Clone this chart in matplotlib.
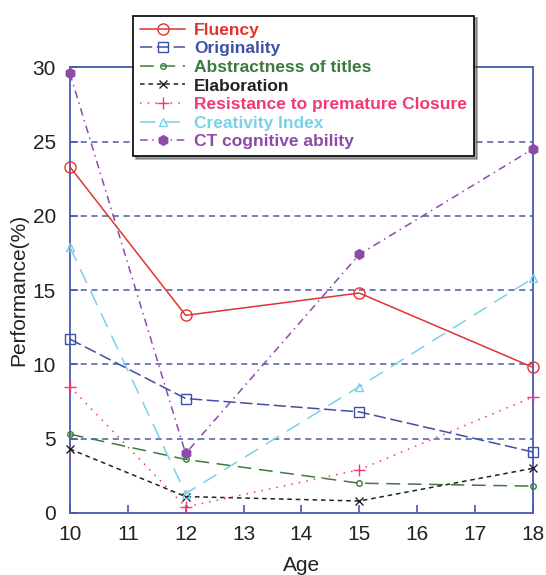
import matplotlib
matplotlib.use('Agg')
import matplotlib.pyplot as plt

ages = [10, 12, 15, 18]
fluency = [23.3, 13.3, 14.8, 9.8]
originality = [11.7, 7.7, 6.8, 4.1]
abstractness = [5.3, 3.6, 2.0, 1.8]
elaboration = [4.3, 1.1, 0.8, 3.0]
resistance = [8.5, 0.4, 2.9, 7.8]
creativity = [17.9, 1.3, 8.5, 15.8]
ct_ability = [29.6, 4.0, 17.4, 24.5]

blue = '#4a58b0'
plt.rcParams['font.family'] = ['Liberation Sans', 'DejaVu Sans']

fig = plt.figure(figsize=(5.46, 5.75), dpi=100)
ax = fig.add_axes([0.128, 0.108, 0.848, 0.775])

# horizontal grid
for y in [5, 10, 15, 20, 25]:
    ax.axhline(y, color=blue, linestyle=(0, (4, 3)), linewidth=1.1, zorder=0)

series = [
    (fluency, 'Fluency', '#e03434', '-', 'o', 'none', 8),
    (originality, 'Originality', '#3f4fa8', (0, (8, 3)), 's', 'none', 7),
    (abstractness, 'Abstractness of titles', '#3d7a3d', (0, (9, 5)), 'o', 'none', 4),
    (elaboration, 'Elaboration', '#222222', (0, (3, 2.5)), 'x', 'none', 6),
    (resistance, 'Resistance to premature Closure', '#f03a70', (0, (1, 4)), '+', 'none', 8),
    (creativity, 'Creativity Index', '#78d2ea', (0, (10, 6)), '^', 'none', 6),
    (ct_ability, 'CT cognitive ability', '#8e4aa8', (0, (5, 3, 1, 3)), 'h', '#8e4aa8', 7),
]

for vals, name, col, ls, mk, fc, ms in series:
    ax.plot(ages, vals, color=col, linestyle=ls, marker=mk, markerfacecolor=fc,
            markeredgecolor=col, markersize=ms, linewidth=1.1, label=name,
            clip_on=False, zorder=3)

ax.set_xlim(10, 18)
ax.set_ylim(0, 30)
ax.set_xticks(range(10, 19))
ax.set_yticks(range(0, 31, 5))
for s in ax.spines.values():
    s.set_color(blue)
    s.set_linewidth(1.3)
ax.tick_params(direction='in', colors=blue, labelcolor='#222222', labelsize=15,
               length=6, width=1.2, top=False, right=False)
ax.tick_params(axis='x', pad=9)
ax.tick_params(axis='y', pad=10)
ax.set_xlabel('Age', fontsize=15, color='#222222', labelpad=8)
ax.set_ylabel('Performance(%)', fontsize=15, color='#222222', labelpad=3)

leg = fig.legend(loc='upper left', bbox_to_anchor=(0.228, 0.988), fontsize=12.5,
                 frameon=True, fancybox=False, shadow=True, handlelength=2.6,
                 borderpad=0.4, labelspacing=0.2, handletextpad=0.5)
leg.get_frame().set_edgecolor('black')
leg.get_frame().set_linewidth(1.2)
for txt, (_, _, col, *_rest) in zip(leg.get_texts(), series):
    txt.set_color(col)
    txt.set_fontweight('bold')

fig.savefig('out.png', dpi=100)
